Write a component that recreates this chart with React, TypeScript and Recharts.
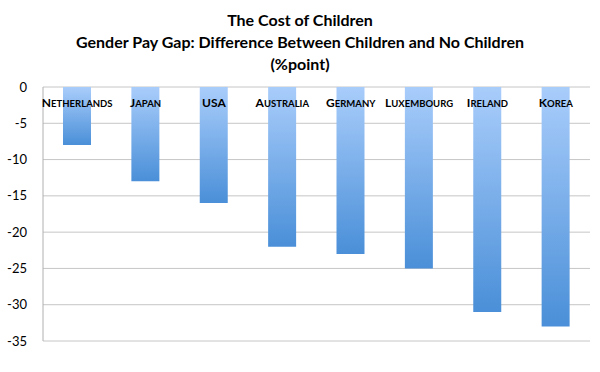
import React from "react";
import { BarChart, Bar, XAxis, YAxis, CartesianGrid } from "recharts";

const countries = [
  "Netherlands",
  "Japan",
  "USA",
  "Australia",
  "Germany",
  "Luxembourg",
  "Ireland",
  "Korea",
];
const payGapDiff = [-8, -13, -16, -22, -23, -25, -31, -33];
const yTicks = [0, -5, -10, -15, -20, -25, -30, -35];
const titleLines = [
  "The Cost of Children",
  "Gender Pay Gap: Difference Between Children and No Children",
  "(%point)",
];

const data = countries.map((name, i) => ({ name, value: payGapDiff[i] }));

const FONT = "Lato, 'Open Sans', sans-serif";

// Excel-style small caps: originally upper case letters big, the rest small.
function SmallCapsTick(props: any) {
  const { x, payload } = props;
  const label: string = payload.value;
  return (
    <text
      x={x}
      y={107}
      textAnchor="middle"
      fontFamily={FONT}
      fontWeight="bold"
      fill="#000"
    >
      {label.split("").map((ch, i) => {
        const isUpper = ch === ch.toUpperCase();
        return (
          <tspan key={i} fontSize={isUpper ? 12 : 9.5}>
            {ch.toUpperCase()}
          </tspan>
        );
      })}
    </text>
  );
}

export default function App() {
  return (
    <div
      style={{
        position: "absolute",
        left: 0,
        top: 0,
        width: 600,
        height: 372,
        background: "#fff",
      }}
    >
      <div
        style={{
          position: "absolute",
          left: 0,
          top: 9,
          width: 600,
          textAlign: "center",
          fontFamily: FONT,
          fontWeight: "bold",
          fontSize: 16,
          lineHeight: "22px",
          color: "#000",
        }}
      >
        {titleLines.map((t) => (
          <div key={t}>{t}</div>
        ))}
      </div>
      <BarChart
        width={600}
        height={372}
        data={data}
        margin={{ top: 86, right: 10, bottom: 31, left: 0 }}
      >
        <defs>
          <linearGradient id="barFill" x1="0" y1="0" x2="0" y2="1">
            <stop offset="0%" stopColor="#a9cdfb" />
            <stop offset="100%" stopColor="#4a8fd8" />
          </linearGradient>
        </defs>
        <CartesianGrid vertical={false} stroke="#c6c6c6" />
        <XAxis
          dataKey="name"
          orientation="top"
          height={1}
          axisLine={false}
          tickLine={false}
          tick={<SmallCapsTick />}
          interval={0}
        />
        <YAxis
          domain={[-35, 0]}
          ticks={yTicks}
          width={43}
          axisLine={{ stroke: "#b0b0b0" }}
          tickLine={false}
          tick={{ fontFamily: FONT, fontSize: 13, fill: "#000" }}
          tickMargin={10}
        />
        <Bar
          dataKey="value"
          fill="url(#barFill)"
          barSize={28}
          isAnimationActive={false}
        />
      </BarChart>
    </div>
  );
}
